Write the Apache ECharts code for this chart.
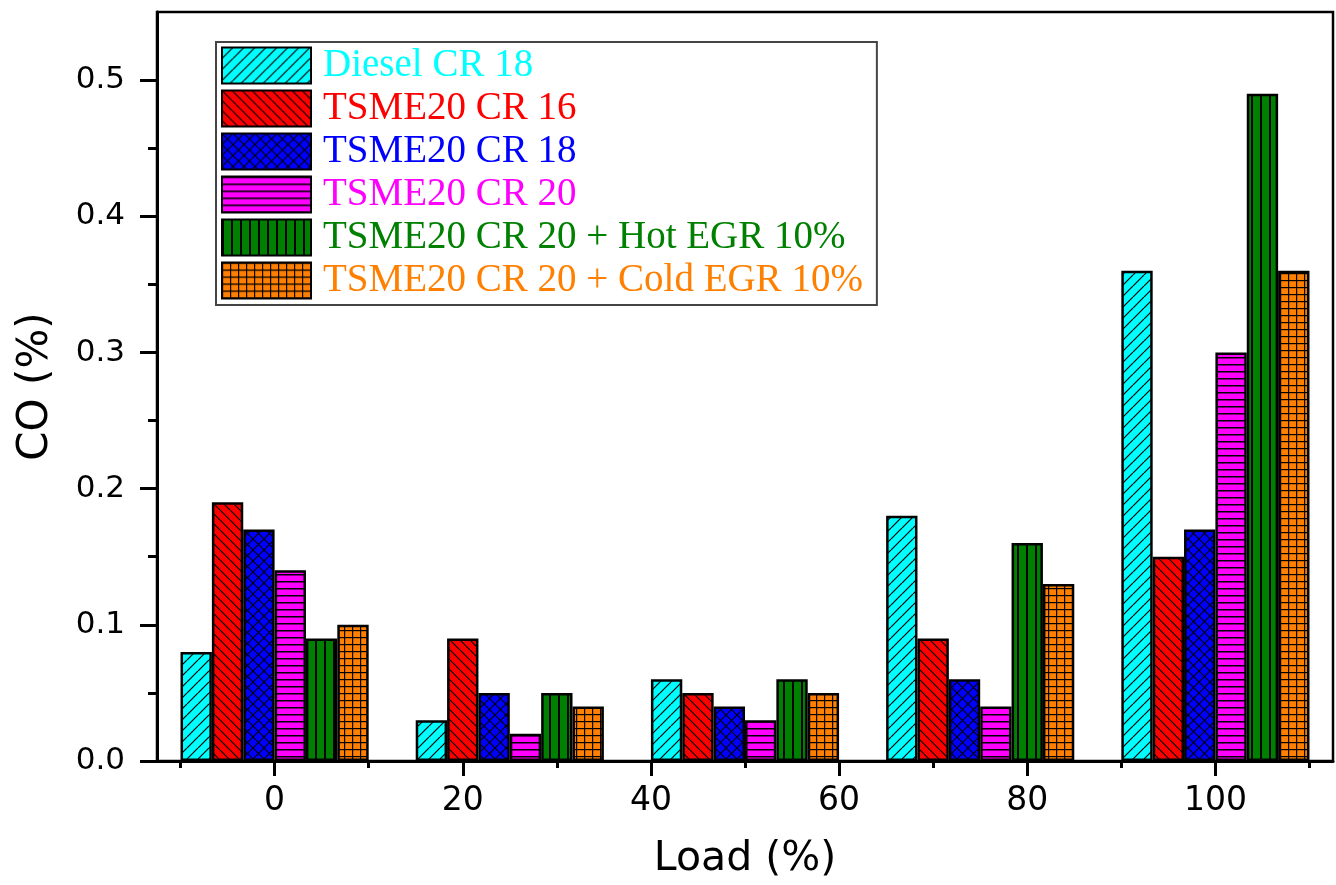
<!DOCTYPE html>
<html>
<head>
<meta charset="utf-8">
<title>CO (%) vs Load</title>
<script src="https://cdn.jsdelivr.net/npm/echarts@6/dist/echarts.min.js"></script>
<style>
  html, body { margin: 0; padding: 0; background: #fff; }
  #chart { width: 1336px; height: 885px; }
</style>
</head>
<body>
<div id="chart"></div>
<script>
// 数据
const loads = [0, 25, 50, 75, 100];
const seriesNames = [
  'Diesel CR 18',
  'TSME20 CR 16',
  'TSME20 CR 18',
  'TSME20 CR 20',
  'TSME20 CR 20 + Hot EGR 10%',
  'TSME20 CR 20 + Cold EGR 10%'
];
const dieselCR18 = [0.08, 0.03, 0.06, 0.18, 0.36];
const tsmeCR16 = [0.19, 0.09, 0.05, 0.09, 0.15];
const tsmeCR18 = [0.17, 0.05, 0.04, 0.06, 0.17];
const tsmeCR20 = [0.14, 0.02, 0.03, 0.04, 0.30];
const tsmeHotEGR = [0.09, 0.05, 0.06, 0.16, 0.49];
const tsmeColdEGR = [0.10, 0.04, 0.05, 0.13, 0.36];
const seriesValues = [dieselCR18, tsmeCR16, tsmeCR18, tsmeCR20, tsmeHotEGR, tsmeColdEGR];

// 刻度
const xMajorTicks = [0, 20, 40, 60, 80, 100];
const xMinorTicks = [-10, 10, 30, 50, 70, 90, 110];
const yMajorTicks = [0, 0.1, 0.2, 0.3, 0.4, 0.5];
const yMinorTicks = [0.05, 0.15, 0.25, 0.35, 0.45];

// 颜色
const colors = ['#00ffff', '#ff0000', '#0000ff', '#ff00ff', '#008000', '#ff8000'];

// 生成填充图案
const makePattern = (bg, w, h, draw) => {
  const c = document.createElement('canvas');
  c.width = w;
  c.height = h;
  const g = c.getContext('2d');
  g.fillStyle = bg;
  g.fillRect(0, 0, w, h);
  g.strokeStyle = '#000';
  g.fillStyle = '#000';
  draw(g, w, h);
  return { image: c, repeat: 'repeat' };
};

const slash = (g, s) => {
  g.beginPath();
  [-s, 0, s].forEach(k => { g.moveTo(k, s); g.lineTo(k + s, 0); });
  g.stroke();
};
const backslash = (g, s) => {
  g.beginPath();
  [-s, 0, s].forEach(k => { g.moveTo(k, 0); g.lineTo(k + s, s); });
  g.stroke();
};

const patterns = [
  makePattern(colors[0], 11, 11, g => { g.lineWidth = 1.2; slash(g, 11); }),
  makePattern(colors[1], 10, 10, g => { g.lineWidth = 1.2; backslash(g, 10); }),
  makePattern(colors[2], 11, 11, g => { g.lineWidth = 1.1; slash(g, 11); backslash(g, 11); }),
  makePattern(colors[3], 8, 7, (g, w) => { g.fillRect(0, 0, w, 1.5); }),
  makePattern(colors[4], 9, 4, (g, w, h) => { g.fillRect(0, 0, 2, h); }),
  makePattern(colors[5], 8, 7, (g, w, h) => { g.fillRect(0, 0, w, 1.2); g.fillRect(0, 0, 1.2, h); })
];

const chart = echarts.init(document.getElementById('chart'));

const series = seriesNames.map((name, i) => ({
  name,
  type: 'bar',
  xAxisIndex: 0,
  yAxisIndex: 0,
  barWidth: '13.333%',
  barGap: '0%',
  data: loads.map((x, j) => [x, seriesValues[i][j]]),
  itemStyle: { color: patterns[i], borderColor: '#000', borderWidth: 2.5 },
  emphasis: { disabled: true }
}));

chart.setOption({
  animation: false,
  grid: {
    left: 157, right: 3, top: 12, bottom: 120,
    show: true, borderColor: '#000', borderWidth: 2.5
  },
  legend: {
    orient: 'vertical',
    left: 216,
    top: 42,
    icon: 'rect',
    itemWidth: 89,
    itemHeight: 36,
    itemGap: 4,
    padding: [4, 14, 5, 5],
    borderColor: '#444',
    borderWidth: 2,
    backgroundColor: '#fff',
    selectedMode: false,
    textStyle: { fontFamily: 'Liberation Serif', fontSize: 39, padding: [0, 0, 0, 7] },
    data: seriesNames.map((name, i) => ({ name, textStyle: { color: colors[i] } }))
  },
  xAxis: [
    {
      type: 'value',
      min: -12.5,
      max: 112.5,
      position: 'bottom',
      name: 'Load (%)',
      nameLocation: 'middle',
      nameGap: 78,
      nameTextStyle: { fontFamily: 'DejaVu Sans', fontSize: 41, color: '#000' },
      splitLine: { show: false },
      axisLine: { onZero: false, lineStyle: { color: '#000', width: 3 } },
      axisTick: { customValues: xMajorTicks, length: 15, lineStyle: { color: '#000', width: 3 } },
      axisLabel: {
        customValues: xMajorTicks,
        margin: 24,
        fontFamily: 'DejaVu Sans',
        fontSize: 33,
        color: '#000'
      }
    },
    {
      type: 'value',
      min: -12.5,
      max: 112.5,
      position: 'bottom',
      splitLine: { show: false },
      axisLine: { show: false, onZero: false },
      axisTick: { customValues: xMinorTicks, length: 7, lineStyle: { color: '#000', width: 3 } },
      axisLabel: { show: false }
    }
  ],
  yAxis: [
    {
      type: 'value',
      min: 0,
      max: 0.55,
      position: 'left',
      name: 'CO (%)',
      nameLocation: 'middle',
      nameGap: 100,
      nameTextStyle: { fontFamily: 'DejaVu Sans', fontSize: 42, color: '#000' },
      splitLine: { show: false },
      axisLine: { onZero: false, lineStyle: { color: '#000', width: 3 } },
      axisTick: { customValues: yMajorTicks, length: 17, lineStyle: { color: '#000', width: 3 } },
      axisLabel: {
        customValues: yMajorTicks,
        margin: 32,
        fontFamily: 'DejaVu Sans',
        fontSize: 31,
        color: '#000',
        formatter: v => v.toFixed(1)
      }
    },
    {
      type: 'value',
      min: 0,
      max: 0.55,
      position: 'left',
      splitLine: { show: false },
      axisLine: { show: false, onZero: false },
      axisTick: { customValues: yMinorTicks, length: 9, lineStyle: { color: '#000', width: 3 } },
      axisLabel: { show: false }
    }
  ],
  series
});

window.addEventListener('resize', () => chart.resize());
</script>
</body>
</html>
